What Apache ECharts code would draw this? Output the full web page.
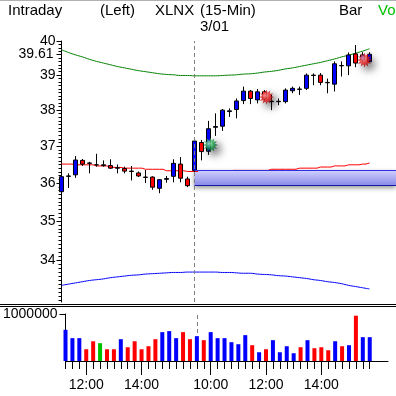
<!DOCTYPE html>
<html><head><meta charset="utf-8">
<script src="https://cdn.jsdelivr.net/npm/echarts@6/dist/echarts.min.js"></script>
<style>html,body{margin:0;padding:0;background:#fff}#c{width:396px;height:396px}</style>
</head><body><div id="c"></div>
<script>
// ---- data ----
const times = ['11:15','11:30','11:45','12:00','12:15','12:30','12:45','13:00','13:15','13:30','13:45','14:00','14:15','14:30','14:45','15:00','15:15','15:30','15:45',
  '9:30','9:45','10:00','10:15','10:30','10:45','11:00','11:15','11:30','11:45','12:00','12:15','12:30','12:45','13:00','13:15','13:30','13:45','14:00','14:15','14:30','14:45','15:00','15:15','15:30','15:45'];
const open  = [35.77,36.18,36.22,36.61,36.54,36.49,36.49,36.47,36.40,36.39,36.32,36.27,36.16,36.16,35.86,36.10,36.18,36.51,36.11,
  36.34,37.10,36.86,37.52,37.55,37.96,38.02,38.27,38.54,38.29,38.52,38.24,38.24,38.24,38.55,38.60,38.62,39.00,39.00,38.79,38.74,39.28,39.27,39.62,39.44,39.39];
const close = [36.17,36.19,36.62,36.51,36.53,36.49,36.47,36.40,36.41,36.32,36.31,36.19,36.15,35.89,36.09,36.12,36.53,36.13,35.93,
  37.14,36.85,37.48,37.54,38.00,37.98,38.26,38.54,38.33,38.52,38.32,38.25,38.25,38.57,38.62,38.59,39.00,38.99,38.79,38.78,39.33,39.27,39.59,39.35,39.59,39.61];
const low   = [35.68,35.87,36.14,36.46,36.26,36.44,36.44,36.38,36.26,36.26,36.07,36.16,36.00,35.82,35.73,36.01,36.02,36.02,35.89,
  36.22,36.61,36.76,37.28,37.42,37.81,37.77,38.17,38.17,38.19,38.26,38.00,38.14,38.19,38.48,38.43,38.57,38.71,38.71,38.48,38.53,38.96,39.00,39.23,39.38,39.38];
const high  = [36.28,36.26,36.73,36.65,36.57,36.79,36.61,36.64,36.50,36.44,36.46,36.31,36.35,36.18,36.10,36.19,36.64,36.70,36.17,
  37.24,37.17,37.70,37.91,38.03,38.05,38.33,38.67,38.57,38.60,38.57,38.43,38.33,38.62,38.67,38.67,39.05,39.05,39.06,38.90,39.40,39.40,39.66,39.88,39.67,39.67];
const volume = [664000,486000,486000,250000,420000,379000,250000,250000,464000,293000,420000,250000,314000,464000,614000,636000,486000,614000,464000,
  528000,443000,614000,486000,486000,400000,357000,550000,336000,186000,250000,443000,186000,314000,165000,293000,443000,272000,293000,229000,420000,314000,336000,964000,507000,507000];
const avgLine = [36.51,36.51,36.49,36.49,36.49,36.46,36.46,36.42,36.42,36.40,36.40,36.40,36.37,36.37,36.37,36.33,36.33,36.33,36.31,
  36.31,null,null,null,null,null,36.34,36.34,36.34,36.34,36.34,36.37,36.37,36.37,36.37,36.40,36.40,36.40,36.43,36.43,36.46,36.46,36.49,36.49,36.51,36.54];
const upperBand = [39.74,39.66,39.59,39.53,39.46,39.40,39.35,39.30,39.25,39.21,39.17,39.13,39.10,39.07,39.04,39.02,39.01,38.99,38.99,
  38.98,38.98,38.98,38.98,38.99,39.00,39.01,39.03,39.04,39.06,39.09,39.11,39.14,39.18,39.21,39.25,39.29,39.33,39.37,39.42,39.47,39.53,39.58,39.64,39.70,39.77];
const lowerBand = [33.37,33.40,33.43,33.46,33.49,33.51,33.53,33.56,33.58,33.60,33.62,33.63,33.65,33.66,33.67,33.68,33.69,33.69,33.70,
  33.70,33.70,33.70,33.70,33.69,33.69,33.68,33.67,33.67,33.65,33.64,33.63,33.61,33.60,33.58,33.56,33.54,33.51,33.49,33.46,33.44,33.41,33.37,33.34,33.31,33.28];
const priceTicks = [34,35,36,37,38,39,40];
const lastPrice = 39.61;
const priceMin = 32.96, priceMax = 40;
const volumeTicks = [1000000];
const volumeMax = 1000000;
const timeTickLabels = ['12:00','14:00','10:00','12:00','14:00'];
const sessionStart = '9:30';
const dateLabel = '3/01';
const signalIdx = [21, 29, 43];
const signalPrice = [37.03, 38.37, 39.44];
const signalKind = ['buy','sell','sell'];

// ---- derived ----
const L = Math.log;
const dayStart = times.indexOf(sessionStart);
const labelIdx = []; { let from = 0; timeTickLabels.forEach(t => { const k = times.indexOf(t, from); labelIdx.push(k); from = k + 1; }); }
const barIdx = times.map((t, i) => i);
const minorTicks = []; for (let k = Math.ceil(priceMin * 10); k <= priceMax * 10; k++) minorTicks.push(L(k / 10));
const majorTicks = priceTicks.map(L);
const gapTop = open[dayStart], gapBottom = close[dayStart - 1];

const STEP = 7, LEFT = 61.5;
const mainW = 396 - LEFT, volW = 388 - LEFT;
const mainXMax = mainW / STEP, volXMax = volW / STEP;

const FONT = 'Liberation Sans, Arial, sans-serif';
const BLUE = '#0000ff', RED = '#ff0000', GREEN = '#00c000';
const dirColor = i => close[i] > open[i] ? BLUE : (close[i] < open[i] ? RED : GREEN);
const fmtPrice = v => String(Math.round(Math.exp(v) * 100) / 100);

let starPath = 'path://';
for (let k = 0; k < 24; k++) {
  const a = k * Math.PI / 12, r = k % 2 ? 6 : 10;
  starPath += (k ? 'L' : 'M') + (10 + r * Math.cos(a)).toFixed(2) + ' ' + (10 + r * Math.sin(a)).toFixed(2) + ' ';
}
starPath += 'Z';
const starColor = kind => new echarts.graphic.RadialGradient(0.4, 0.4, 0.6, kind === 'buy'
  ? [{offset: 0, color: '#b0ffc0'}, {offset: 0.5, color: '#20a050'}, {offset: 1, color: '#005020'}]
  : [{offset: 0, color: '#ffb0b0'}, {offset: 0.5, color: '#f02020'}, {offset: 1, color: '#900000'}]);

const chart = echarts.init(document.getElementById('c'), null, {renderer: 'canvas'});
const txt = (x, y, s, color) => ({type: 'text', left: x, top: y, style: {text: s, fill: color || '#000', font: '15px ' + FONT}});
const priceAxisBase = {type: 'value', gridIndex: 0, position: 'left', min: L(priceMin), max: L(priceMax), splitLine: {show: false}};

chart.setOption({
  animation: false,
  backgroundColor: '#fff',
  graphic: [
    {type: 'rect', shape: {x: 0, y: 0, width: 396, height: 1}, style: {fill: '#b0b0b0'}},
    {type: 'line', shape: {x1: 0, y1: 304.5, x2: 396, y2: 304.5}, style: {stroke: '#000', lineWidth: 1}},
    {type: 'line', shape: {x1: 0, y1: 306.5, x2: 396, y2: 306.5}, style: {stroke: '#000', lineWidth: 1}},
    txt(8, 3, 'Intraday'), txt(100, 3, '(Left)'), txt(155, 3, 'XLNX'), txt(200, 3, '(15-Min)'),
    txt(200, 19, dateLabel), txt(339, 3, 'Bar'), txt(378, 3, 'Vo', GREEN)
  ],
  grid: [
    {left: LEFT, top: 41, width: mainW, height: 261},
    {left: LEFT, top: 314, width: volW, height: 47}
  ],
  xAxis: [
    {type: 'value', gridIndex: 0, min: 0, max: mainXMax, show: false},
    {type: 'value', gridIndex: 1, position: 'bottom', min: 0, max: volXMax,
      axisLine: {show: true, lineStyle: {color: '#000', width: 1}},
      axisTick: {show: true, length: 8, customValues: barIdx, lineStyle: {color: '#000'}},
      axisLabel: {show: false}, splitLine: {show: false}},
    {type: 'value', gridIndex: 1, position: 'bottom', min: 0, max: volXMax,
      axisLine: {show: false},
      axisTick: {show: true, length: 14, customValues: labelIdx, lineStyle: {color: '#000'}},
      axisLabel: {show: true, customValues: labelIdx, formatter: v => times[Math.round(v)], margin: 17,
        color: '#000', fontSize: 14, fontFamily: FONT, hideOverlap: false},
      splitLine: {show: false}}
  ],
  yAxis: [
    Object.assign({}, priceAxisBase, {
      axisLine: {show: true, lineStyle: {color: '#000', width: 1}},
      axisTick: {show: true, length: 5, customValues: majorTicks, lineStyle: {color: '#000'}},
      axisLabel: {show: true, customValues: majorTicks, margin: 6, color: '#000', fontSize: 14, fontFamily: FONT, hideOverlap: false, formatter: fmtPrice}}),
    Object.assign({}, priceAxisBase, {
      axisLine: {show: false},
      axisTick: {show: true, length: 3, customValues: minorTicks, lineStyle: {color: '#000'}},
      axisLabel: {show: false}}),
    Object.assign({}, priceAxisBase, {
      axisLine: {show: false},
      axisTick: {show: true, length: 5, customValues: [L(lastPrice)], lineStyle: {color: '#000'}},
      axisLabel: {show: true, customValues: [L(lastPrice)], margin: 8, color: '#000', fontSize: 14, fontFamily: FONT, hideOverlap: false, formatter: fmtPrice}}),
    {type: 'value', gridIndex: 1, position: 'left', min: 0, max: volumeMax,
      axisLine: {show: true, lineStyle: {color: '#000', width: 1}},
      axisTick: {show: true, length: 6, customValues: volumeTicks, lineStyle: {color: '#000'}},
      axisLabel: {show: true, customValues: volumeTicks, margin: 8, color: '#000', fontSize: 14, fontFamily: FONT, formatter: v => String(v)},
      splitLine: {show: false}}
  ],
  series: [
    {type: 'line', xAxisIndex: 0, yAxisIndex: 0, smooth: true, symbol: 'none', silent: true,
      lineStyle: {color: '#008000', width: 1}, data: upperBand.map((v, i) => [i, L(v)])},
    {type: 'line', xAxisIndex: 0, yAxisIndex: 0, smooth: true, symbol: 'none', silent: true,
      lineStyle: {color: BLUE, width: 1}, data: lowerBand.map((v, i) => [i, L(v)])},
    {type: 'line', xAxisIndex: 0, yAxisIndex: 0, step: 'middle', symbol: 'none', silent: true, connectNulls: false,
      lineStyle: {color: RED, width: 1}, data: avgLine.map((v, i) => [i, v == null ? null : L(v)])},
    {type: 'candlestick', xAxisIndex: 0, yAxisIndex: 0, barWidth: 5, z: 3,
      encode: {x: 0, y: [1, 2, 3, 4]},
      itemStyle: {color: BLUE, color0: RED, borderColor: '#000', borderColor0: '#000', borderColorDoji: '#000', borderWidth: 1},
      data: times.map((t, i) => [i, L(open[i]), L(close[i]), L(low[i]), L(high[i])]),
      markArea: {silent: true,
        itemStyle: {color: new echarts.graphic.LinearGradient(0, 0, 0, 1, [{offset: 0, color: '#d0d0ff'}, {offset: 1, color: '#8888e8'}]),
          shadowBlur: 5, shadowColor: 'rgba(0,0,0,0.45)', shadowOffsetY: 2},
        data: [[{coord: [dayStart, L(gapTop)]}, {coord: [mainXMax, L(gapBottom)]}]]},
      markLine: {silent: true, symbol: ['none', 'none'], label: {show: false},
        data: [
          {xAxis: dayStart, lineStyle: {type: [4, 3], color: '#808080', width: 1}},
          [{coord: [dayStart, L(gapTop)], lineStyle: {type: 'solid', color: '#3030e0', width: 1}}, {coord: [mainXMax, L(gapTop)]}],
          [{coord: [dayStart, L(gapBottom)], lineStyle: {type: 'solid', color: '#1818a0', width: 1}}, {coord: [mainXMax, L(gapBottom)]}]
        ]}},
    {type: 'scatter', xAxisIndex: 0, yAxisIndex: 0, symbol: starPath, symbolSize: 15, symbolOffset: [2, 0], z: 5, silent: true,
      data: signalIdx.map((x, k) => ({value: [x, L(signalPrice[k])],
        itemStyle: {color: starColor(signalKind[k]), shadowBlur: 8, shadowColor: 'rgba(0,0,0,0.8)', shadowOffsetX: 4, shadowOffsetY: 4}}))},
    {type: 'bar', xAxisIndex: 1, yAxisIndex: 3, barWidth: 4, silent: true,
      itemStyle: {color: p => dirColor(p.dataIndex)},
      data: volume.map((v, i) => [i, v]),
      markLine: {silent: true, symbol: ['none', 'none'], label: {show: false}, z: 0,
        data: [{xAxis: dayStart, lineStyle: {type: [4, 3], color: '#808080', width: 1}}]}}
  ]
});
</script></body></html>
